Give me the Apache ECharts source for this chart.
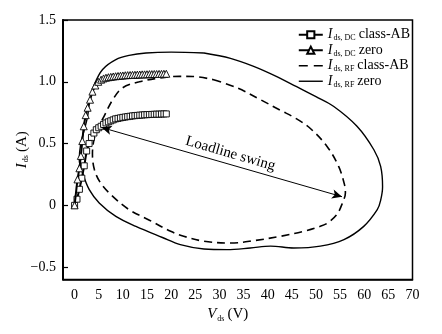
<!DOCTYPE html>
<html><head><meta charset="utf-8">
<script src="https://cdn.jsdelivr.net/npm/echarts@6/dist/echarts.min.js"></script>
<style>html,body{margin:0;padding:0;background:#fff}#c{width:442px;height:334px}</style>
</head><body><div id="c"></div>
<script>
// DC I-V curves (V, A)
const dcAB_V = [0,0.5,1,1.5,2,2.5,3,3.5,4,4.5,5,5.5,6,6.5,7,7.5,8,8.5,9,9.5,10,10.5,11,11.5,12,12.5,13,13.5,14,14.5,15,15.5,16,16.5,17,17.5,18,18.5,19];
const dcAB_I = [0,0.05,0.13,0.22,0.32,0.44,0.50,0.55,0.585,0.612,0.628,0.64,0.655,0.667,0.676,0.684,0.692,0.70,0.704,0.708,0.712,0.715,0.718,0.721,0.724,0.726,0.728,0.730,0.731,0.733,0.734,0.735,0.736,0.737,0.738,0.738,0.739,0.74,0.74];
const dcZero_V = [0,0.6,1.0,1.3,1.6,1.9,2.3,2.7,3.2,3.7,4.3,4.9,5.5,6,6.5,7,7.5,8,8.5,9,9.5,10,10.5,11,11.5,12,12.5,13,13.5,14,14.5,15,15.5,16,16.5,17,17.5,18,18.5,19];
const dcZero_I = [0,0.21,0.30,0.40,0.52,0.64,0.73,0.79,0.855,0.92,0.97,1.0,1.017,1.027,1.033,1.037,1.040,1.043,1.045,1.047,1.049,1.051,1.053,1.054,1.055,1.056,1.057,1.058,1.059,1.06,1.06,1.061,1.062,1.062,1.063,1.063,1.064,1.064,1.065,1.065];
// RF load-line loops
const rfAB_V = [28.8,33.7,38.5,42.6,46,48.9,52.3,54.7,55.9,56.1,55.6,54.4,52.5,50.9,47.5,42.7,37.1,32.3,26.8,22.6,19.9,15.5,11.3,7.9,5.4,4.1,3.7,4.4,6.1,7.9,9.9,13.4,17.5,21.7,24.5,28.8];
const rfAB_I = [1.017,0.95,0.855,0.77,0.70,0.62,0.477,0.315,0.17,0.10,0.03,-0.07,-0.14,-0.17,-0.21,-0.25,-0.286,-0.305,-0.29,-0.25,-0.21,-0.12,-0.035,0.073,0.18,0.29,0.42,0.586,0.72,0.855,0.95,1.0,1.03,1.044,1.043,1.017];
const rfZero_V = [26.8,32.3,37.1,42,46,50,53.7,58.5,62,63.4,63.8,63.4,62.7,59.9,55.8,50.9,45.4,40.6,36.4,31.6,26.8,21.9,18.2,12.7,8.55,5.1,3.04,1.66,0.97,1.3,2.0,2.7,3.17,4.08,5.8,8.55,11.3,14.8,20,26.8];
const rfZero_I = [1.233,1.19,1.125,1.04,0.96,0.88,0.80,0.64,0.45,0.315,0.15,0.04,-0.035,-0.17,-0.277,-0.33,-0.345,-0.33,-0.345,-0.358,-0.353,-0.318,-0.26,-0.17,-0.089,0.02,0.127,0.262,0.37,0.505,0.61,0.72,0.855,0.977,1.10,1.18,1.214,1.233,1.24,1.233];
// tick labels
const xTicks = [0,5,10,15,20,25,30,35,40,45,50,55,60,65,70];
const yTicks = [-0.5,0,0.5,1.0,1.5];
const yTickText = ['\u22120.5','0','0.5','1.0','1.5'];
const loadlineStart = [5.6,0.63];
const loadlineEnd = [55.4,0.07];
const legendNames = ['dcAB','dcZero','rfAB','rfZero'];
const legendText = {
  dcAB: '{i|I}{s|ds, DC} {t|class-AB}',
  dcZero: '{i|I}{s|ds, DC} {t|zero}',
  rfAB: '{i|I}{s|ds, RF} {t|class-AB}',
  rfZero: '{i|I}{s|ds, RF} {t|zero}'
};

const zip = (a,b)=>a.map((v,i)=>[v,b[i]]);
const F = 'Liberation Serif, Times New Roman, serif';
const chart = echarts.init(document.getElementById('c'), null, {renderer:'canvas'});
chart.setOption({
  animation:false,
  backgroundColor:'#fff',
  textStyle:{fontFamily:F,color:'#000'},
  grid:{left:63,right:29.5,top:20,bottom:54.5,show:true,borderColor:'#000',borderWidth:1.5},
  legend:{
    data:[
      {name:legendNames[0]},
      {name:legendNames[1]},
      {name:legendNames[2],icon:'path://M0,0h9v1.6h-9zM15,0h9v1.6h-9z',itemStyle:{color:'#000',borderWidth:0}},
      {name:legendNames[3],icon:'path://M0,0h24v1.4h-24z',itemStyle:{color:'#000',borderWidth:0}}
    ],
    orient:'vertical', right:27, top:22, itemWidth:24, itemHeight:9, itemGap:0,
    formatter:n=>legendText[n],
    textStyle:{fontFamily:F,color:'#000',lineHeight:15.5,rich:{
      i:{fontFamily:F,fontStyle:'italic',fontSize:14,color:'#000',lineHeight:15.5},
      s:{fontFamily:F,fontSize:8,color:'#000',padding:[7,0,0,1],lineHeight:15.5},
      t:{fontFamily:F,fontSize:14,color:'#000',lineHeight:15.5}
    }}
  },
  xAxis:{
    type:'value', min:-2.4, max:70,
    axisLine:{show:true,onZero:false,lineStyle:{color:'#000',width:1.5}},
    axisTick:{show:false},
    splitLine:{show:false},
    axisLabel:{customValues:xTicks,fontFamily:F,fontSize:14,color:'#000',margin:9,showMaxLabel:true},
    name:'{i|V}{s|ds} {t|(V)}', nameLocation:'middle', nameGap:27, nameMoveOverlap:false,
    nameTextStyle:{padding:[0,20,0,0],rich:{
      i:{fontFamily:F,fontStyle:'italic',fontSize:15,color:'#000'},
      s:{fontFamily:F,fontSize:8,color:'#000',padding:[8,0,0,1]},
      t:{fontFamily:F,fontSize:15,color:'#000'}
    }}
  },
  yAxis:{
    type:'value', min:-0.6, max:1.5,
    axisLine:{show:true,onZero:false,lineStyle:{color:'#000',width:2}},
    axisTick:{show:true,inside:true,length:5,customValues:yTicks,lineStyle:{color:'#000',width:1.2}},
    splitLine:{show:false},
    axisLabel:{customValues:yTicks,fontFamily:F,fontSize:14,color:'#000',margin:7,
      formatter:v=>yTickText[yTicks.findIndex(t=>Math.abs(t-v)<1e-6)]},
    name:'{i|I}{s|ds} {t|(A)}', nameLocation:'middle', nameGap:33, nameRotate:90, nameMoveOverlap:false,
    nameTextStyle:{rich:{
      i:{fontFamily:F,fontStyle:'italic',fontSize:15,color:'#000'},
      s:{fontFamily:F,fontSize:8,color:'#000',padding:[8,0,0,1]},
      t:{fontFamily:F,fontSize:15,color:'#000'}
    }}
  },
  series:[
    {name:'rfZero',type:'line',data:zip(rfZero_V,rfZero_I),smooth:0.35,showSymbol:false,
     lineStyle:{color:'#000',width:1.4,type:'solid'},itemStyle:{color:'#000'},z:2},
    {name:'rfAB',type:'line',data:zip(rfAB_V,rfAB_I),smooth:0.35,showSymbol:false,
     lineStyle:{color:'#000',width:1.6,type:[8,5]},itemStyle:{color:'#000'},z:2,
     markLine:{silent:true,symbol:['arrow','arrow'],symbolSize:[7,10],
       lineStyle:{color:'#000',width:1,type:'solid'},
       label:{show:true,position:'middle',formatter:'Loadline swing',fontFamily:F,fontSize:15,color:'#000',distance:3,padding:[0,0,0,12]},
       data:[[{coord:loadlineStart},{coord:loadlineEnd}]]}},
    {name:'dcAB',type:'line',data:zip(dcAB_V,dcAB_I),symbol:'rect',symbolSize:6,showAllSymbol:true,
     lineStyle:{color:'#000',width:2},itemStyle:{color:'#fff',borderColor:'#000',borderWidth:0.9},z:4},
    {name:'dcZero',type:'line',data:zip(dcZero_V,dcZero_I),symbol:'triangle',symbolSize:7,showAllSymbol:true,
     lineStyle:{color:'#000',width:2},itemStyle:{color:'#fff',borderColor:'#000',borderWidth:0.9},z:5}
  ]
});
</script></body></html>
